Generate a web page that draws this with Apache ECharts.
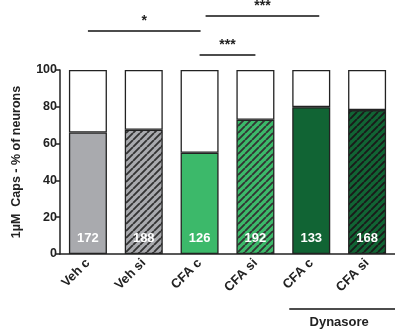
<!DOCTYPE html>
<html><head><meta charset="utf-8">
<script src="https://cdn.jsdelivr.net/npm/echarts@6/dist/echarts.min.js"></script>
<style>html,body{margin:0;padding:0;background:#fff}#c{width:395px;height:336px}</style>
</head><body><div id="c"></div>
<script>
const categories = ['Veh c','Veh si','CFA c','CFA si','CFA c','CFA si'];
const percent = [66, 67.5, 55, 73, 79.8, 78.2];
const counts = [172, 188, 126, 192, 133, 168];
const yTicks = [0, 20, 40, 60, 80, 100];
const fills = ['#a9aaae','#a9aaae','#3cb96a','#3cb96a','#116434','#116434'];
const hatched = [false, true, false, true, false, true];
const hatchColors = ['#333','#333','#333','#333','#222','#1a1a1a'];

function pattern(bg, line){
  const s = 7;
  const c = document.createElement('canvas');
  c.width = s; c.height = s;
  const g = c.getContext('2d');
  g.fillStyle = bg; g.fillRect(0,0,s,s);
  g.strokeStyle = line; g.lineWidth = 1.9;
  g.beginPath();
  for (let k=-s;k<=2*s;k+=s){ g.moveTo(k,s); g.lineTo(k+s,0); }
  g.stroke();
  return {image:c, repeat:'repeat'};
}

const fillData = percent.map((v,i)=>({
  value: v,
  itemStyle: {color: hatched[i] ? pattern(fills[i], hatchColors[i]) : fills[i]}
}));
const restData = percent.map(v=>100 - v);

const chart = echarts.init(document.getElementById('c'));
const FF = 'Liberation Sans, Arial, sans-serif';
const bold = {fontFamily:FF, fontWeight:'bold', color:'#222'};
chart.setOption({
  animation:false,
  grid:{left:60, right:-1, top:70, bottom:82},
  xAxis:{type:'category', data:categories,
    axisLine:{lineStyle:{color:'#222', width:1.5}},
    axisTick:{show:false},
    axisLabel:Object.assign({rotate:45, fontSize:13, margin:7, interval:0}, bold)},
  yAxis:{type:'value', min:0, max:100, interval:20,
    name:'1µM  Caps - % of neurons', nameLocation:'middle', nameGap:37,
    nameTextStyle:Object.assign({fontSize:12.5}, bold),
    axisLine:{show:true, lineStyle:{color:'#222', width:1.5}},
    axisTick:{show:true, length:5, lineStyle:{color:'#222', width:1.5}},
    splitLine:{show:false},
    axisLabel:Object.assign({fontSize:12.5, margin:3, formatter:v=>yTicks.includes(v)?String(v):''}, bold)},
  series:[
    {type:'bar', stack:'a', barWidth:38, data:fillData,
      itemStyle:{borderColor:'#222', borderWidth:1.3},
      label:{show:true, position:'insideBottom', distance:9, color:'#fff', fontWeight:'bold', fontSize:13,
        fontFamily:FF, formatter:p=>String(counts[p.dataIndex])}},
    {type:'bar', stack:'a', barWidth:38, data:restData,
      itemStyle:{color:'#fff', borderColor:'#222', borderWidth:1.3}}
  ]
});

function px(i){ return chart.convertToPixel({xAxisIndex:0}, i); }
function py(v){ return chart.convertToPixel({yAxisIndex:0}, v); }
const ln = {stroke:'#111', lineWidth:1.6};
const star = {fill:'#222', font:'bold 14px ' + FF, align:'center', verticalAlign:'middle'};
const g = [];
function bracket(x1,x2,y,txt){
  g.push({type:'line', shape:{x1:x1,y1:y,x2:x2,y2:y}, style:ln});
  g.push({type:'text', x:(x1+x2)/2, y:y-10, style:Object.assign({text:txt}, star)});
}
const y100 = py(100);
bracket(px(0), px(2)+1, y100-39, '*');
bracket(px(2)+6, px(4)+8, y100-54, '***');
bracket(px(2), px(3), y100-15, '***');
const w = chart.getWidth();
const yAx = py(0);
g.push({type:'line', shape:{x1:px(4)-22, y1:yAx+55, x2:w, y2:yAx+55}, style:ln});
g.push({type:'text', x:(px(4)+px(5))/2, y:yAx+68, style:{text:'Dynasore', fill:'#222', font:'bold 13px ' + FF, align:'center', verticalAlign:'middle'}});
chart.setOption({graphic:g});
</script></body></html>
